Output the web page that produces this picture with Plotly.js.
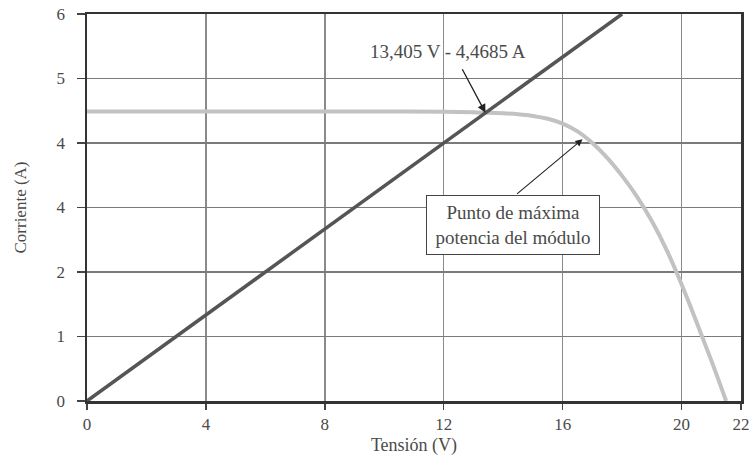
<!DOCTYPE html>
<html>
<head>
<meta charset="utf-8">
<script src="https://cdn.plot.ly/plotly-3.0.1.min.js"></script>
<style>html,body{margin:0;padding:0;background:#fff;}#chart{width:752px;height:459px;}</style>
</head>
<body>
<div id="chart"></div>
<script>
// I-V curve of the module
const curveV = [0, 4, 8, 10, 12, 13, 13.5, 14, 14.5, 15, 15.5, 16, 16.5, 17, 17.5, 18, 18.5, 19, 19.5, 20, 20.5, 21, 21.5];
const curveI = [4.49, 4.49, 4.49, 4.488, 4.483, 4.475, 4.47, 4.46, 4.445, 4.42, 4.375, 4.3, 4.18, 4.0, 3.77, 3.49, 3.17, 2.79, 2.34, 1.81, 1.23, 0.63, 0];
// Load line
const lineV = [0, 18];
const lineI = [0, 6];
// Ticks
const xTicks = [0, 4, 8, 12, 16, 20, 22];
const xTickText = ["0", "4", "8", "12", "16", "20", "22"];
const yTicks = [0, 1, 2, 3, 4, 5, 6];
const yTickText = ["0", "1", "2", "4", "4", "5", "6"];
// Annotated points
const opPoint = {v: 13.405, i: 4.4685, label: "13,405 V - 4,4685 A"};
const mppPoint = {v: 16.67, i: 4.06, label: "Punto de máxima<br>potencia del módulo"};

const font = "Liberation Serif, Times New Roman, serif";
const txt = "#4a4a4a";

const traces = [
  {x: curveV, y: curveI, mode: "lines", line: {color: "#c2c2c2", width: 4, shape: "spline", smoothing: 1}, hoverinfo: "skip"},
  {x: lineV, y: lineI, mode: "lines", line: {color: "#555555", width: 3.5}, hoverinfo: "skip"}
];

const layout = {
  width: 752, height: 459,
  margin: {l: 87, r: 11, t: 14, b: 58},
  paper_bgcolor: "#fff", plot_bgcolor: "#fff",
  showlegend: false,
  font: {family: font, color: txt, size: 17},
  xaxis: {
    range: [0, 22], tickvals: xTicks, ticktext: xTickText,
    showgrid: true, gridcolor: "#8a8a8a", gridwidth: 1.5,
    showline: true, linecolor: "#333", linewidth: 2.5, mirror: true,
    ticks: "outside", ticklen: 6, tickcolor: "#444", tickwidth: 1.5,
    zeroline: false, fixedrange: true,
    tickfont: {family: font, size: 17, color: txt},
    title: {text: "Tensión (V)", font: {family: font, size: 18, color: txt}, standoff: 6}
  },
  yaxis: {
    range: [0, 6], tickvals: yTicks, ticktext: yTickText,
    showgrid: true, gridcolor: "#7a7a7a", gridwidth: 1.5,
    showline: true, linecolor: "#333", linewidth: 2.5, mirror: true,
    ticks: "outside", ticklen: 8, tickcolor: "#444", tickwidth: 1.5,
    ticklabelstandoff: 8,
    zeroline: false, fixedrange: true,
    tickfont: {family: font, size: 17, color: txt},
    title: {text: "Corriente (A)", font: {family: font, size: 17, color: txt}, standoff: 26}
  },
  annotations: [
    {x: opPoint.v, y: opPoint.i, xref: "x", yref: "y", text: "", showarrow: true,
     arrowhead: 2, arrowsize: 1.3, arrowwidth: 1.3, arrowcolor: "#222", ax: -24, ay: -45, standoff: 0},
    {x: opPoint.v, y: opPoint.i, xref: "x", yref: "y", text: opPoint.label, showarrow: false,
     xshift: -37, yshift: 61, font: {family: font, size: 19, color: txt}},
    {x: mppPoint.v, y: mppPoint.i, xref: "x", yref: "y", text: "", showarrow: true,
     arrowhead: 2, arrowsize: 1.3, arrowwidth: 1.1, arrowcolor: "#222", ax: -67, ay: 56, standoff: 0},
    {x: 513, y: 225, xref: "paper", yref: "paper", text: mppPoint.label, showarrow: false,
     bordercolor: "#444", borderwidth: 1, bgcolor: "#fff", borderpad: 2, width: 168, height: 54,
     font: {family: font, size: 19, color: txt}, align: "center"}
  ]
};
// convert the box position (pixels) to paper coordinates
const pw = 752 - 87 - 11, ph = 459 - 14 - 58;
layout.annotations[3].x = (513 - 87) / pw;
layout.annotations[3].y = (459 - 58 - 225) / ph;

Plotly.newPlot("chart", traces, layout, {displayModeBar: false, staticPlot: true});
</script>
</body>
</html>
